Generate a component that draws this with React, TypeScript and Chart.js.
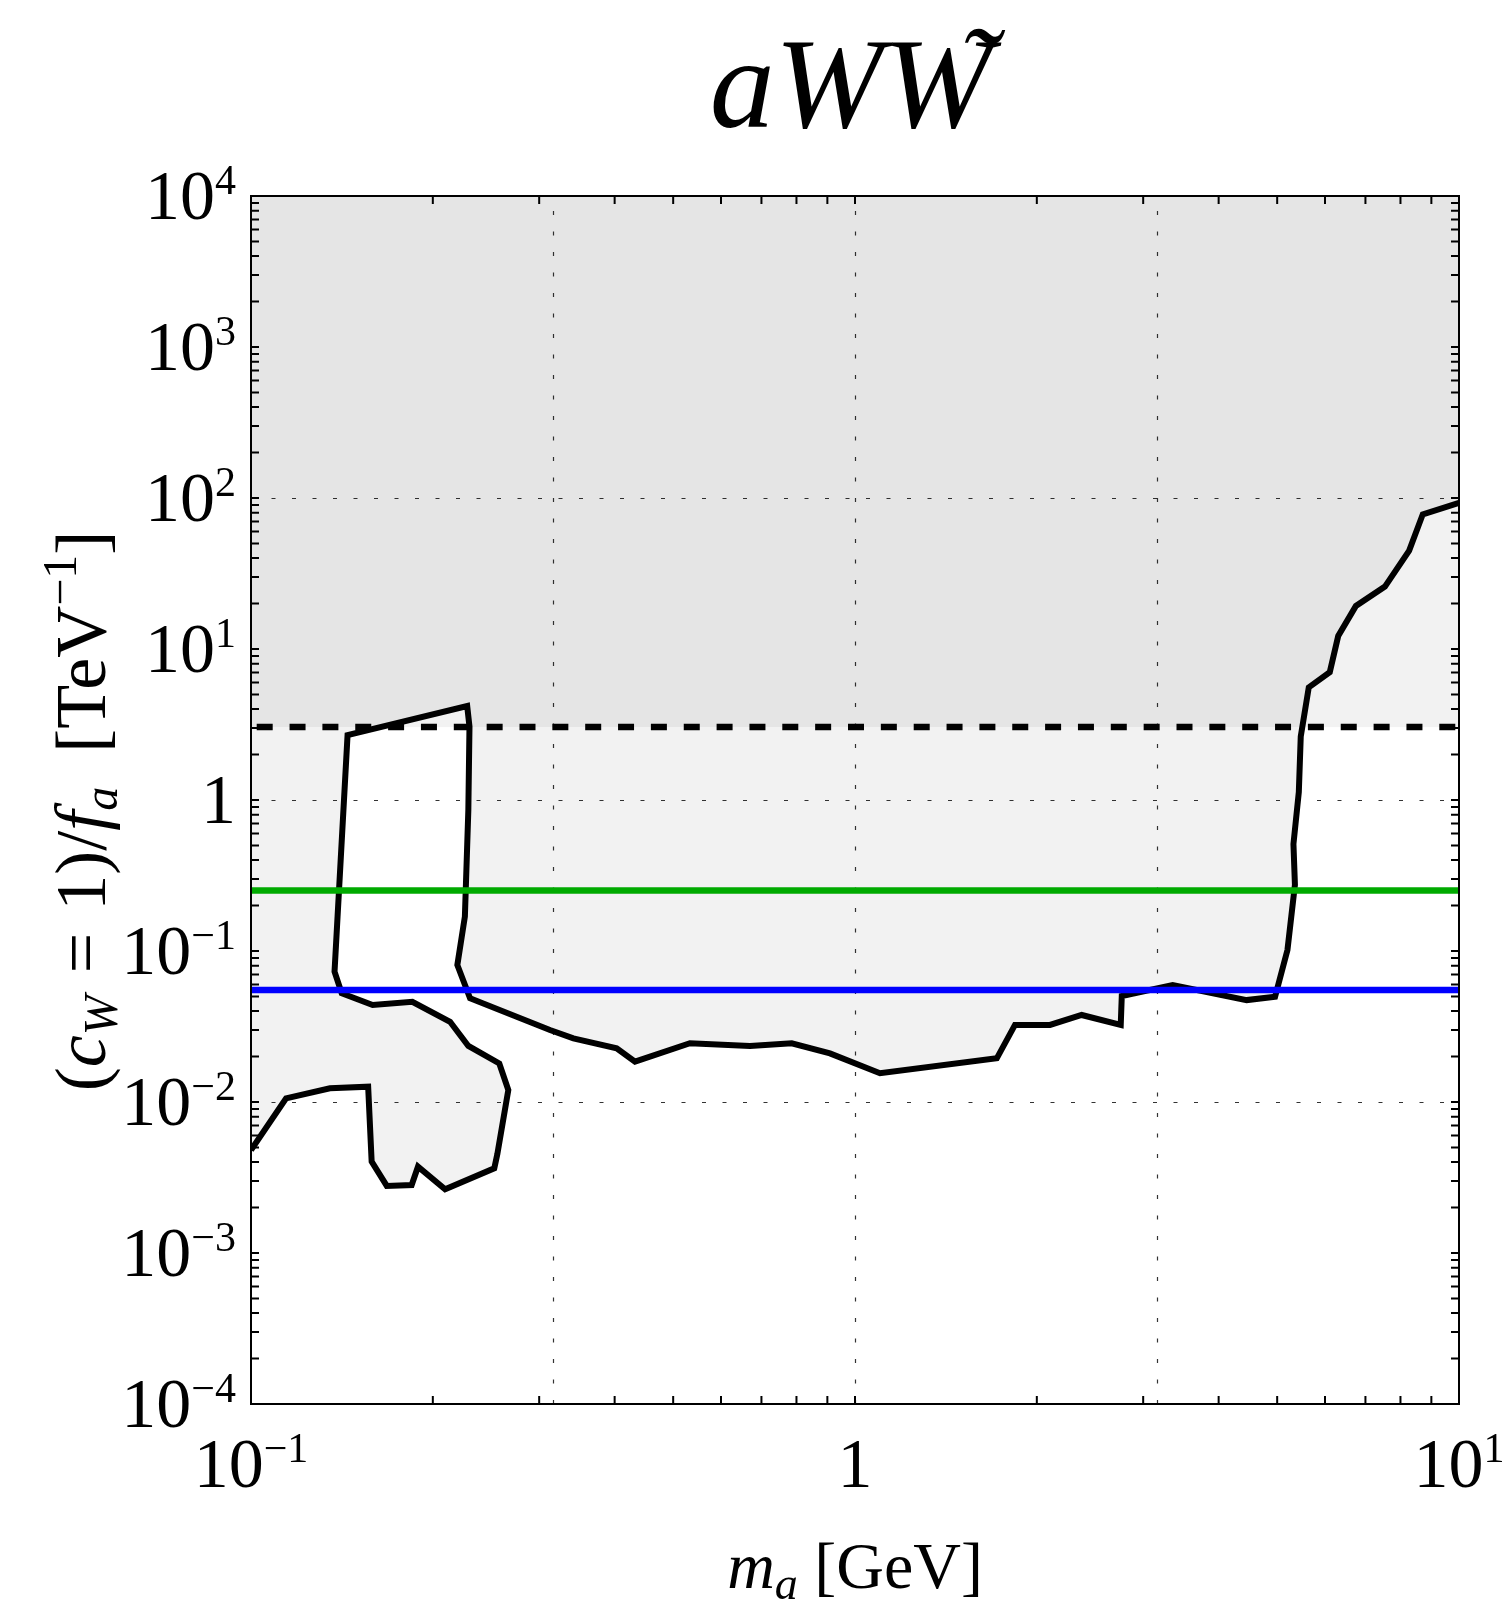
import React, { useEffect, useRef } from 'react';
import { Chart, registerables } from 'chart.js';

Chart.register(...registerables);

const CANVAS_W = 1503;
const CANVAS_H = 1599;

// Exclusion contour (m_a in GeV, coupling in TeV^-1), in drawing order
const contourMass = [
  0.1, 0.1143, 0.1351, 0.1563, 0.1584, 0.1678, 0.1845, 0.189, 0.2096, 0.2528,
  0.2558, 0.2667, 0.2577, 0.229, 0.2136, 0.185, 0.159, 0.1413, 0.1375, 0.1445,
  0.228, 0.23, 0.229, 0.226, 0.2196, 0.2305, 0.3126, 0.3418, 0.4031, 0.4323,
  0.533, 0.67, 0.7857, 0.909, 1.1, 1.717, 1.84, 2.103, 2.373, 2.754,
  2.765, 3.357, 4.451, 4.96, 5.2, 5.35, 5.32, 5.43, 5.47, 5.64,
  6.11, 6.31, 6.75, 7.54, 8.27, 8.71, 10,
];
const contourCoupling = [
  0.0048, 0.01057, 0.01233, 0.01264, 0.00403, 0.00278, 0.00282, 0.00373, 0.00264, 0.00364,
  0.00453, 0.012, 0.018, 0.0235, 0.034, 0.0461, 0.0439, 0.0525, 0.073, 2.69,
  4.19, 3.06, 0.859, 0.169, 0.0808, 0.0486, 0.03, 0.0264, 0.0227, 0.0185,
  0.0245, 0.0235, 0.0245, 0.021, 0.0155, 0.01946, 0.0324, 0.0324, 0.0377, 0.0324,
  0.0503, 0.0595, 0.0473, 0.0498, 0.1016, 0.274, 0.511, 1.13, 2.63, 5.57,
  7.01, 12.2, 19.3, 25.9, 44.8, 78, 93,
];

const dashedLimit = 3.04;
const greenLimit = 0.252;
const blueLimit = 0.0552;

const massRange = [0.1, 10];
const couplingRange = [1e-4, 1e4];

const xGridLines = [0.3162, 1, 3.162];
const yGridLines = [0.01, 1, 100];

const xTickValues = [0.1, 1, 10];
const xTickBases = ['10', '1', '10'];
const xTickExps = ['\u22121', '', '1'];

const yTickValues = [1e-4, 1e-3, 1e-2, 1e-1, 1, 10, 100, 1000, 10000];
const yTickBases = ['10', '10', '10', '10', '1', '10', '10', '10', '10'];
const yTickExps = ['\u22124', '\u22123', '\u22122', '\u22121', '', '1', '2', '3', '4'];

const LIGHT = '#f2f2f2';
const DARK = '#e5e5e5';
const SERIF = '"Liberation Serif", "DejaVu Serif", serif';

const BASE_FS = 70;
const EXP_FS = 42;
const EXP_RAISE = 25;

function minorTicks(lo: number, hi: number): number[] {
  const out: number[] = [];
  const e0 = Math.round(Math.log10(lo));
  const e1 = Math.round(Math.log10(hi));
  for (let e = e0; e < e1; e++) {
    for (let m = 1; m <= 9; m++) out.push(m * Math.pow(10, e));
  }
  out.push(hi);
  return out;
}

function drawPower(ctx: CanvasRenderingContext2D, base: string, exp: string, x: number, baseline: number, align: 'center' | 'right') {
  ctx.font = `${BASE_FS}px ${SERIF}`;
  const wb = ctx.measureText(base).width;
  ctx.font = `${EXP_FS}px ${SERIF}`;
  const we = exp ? ctx.measureText(exp).width : 0;
  const total = wb + we;
  const x0 = align === 'center' ? x - total / 2 : x - total;
  ctx.textAlign = 'left';
  ctx.textBaseline = 'alphabetic';
  ctx.font = `${BASE_FS}px ${SERIF}`;
  ctx.fillText(base, x0, baseline);
  if (exp) {
    ctx.font = `${EXP_FS}px ${SERIF}`;
    ctx.fillText(exp, x0 + wb, baseline - EXP_RAISE);
  }
}

type Piece = { t: string; size: number; italic?: boolean; shift?: number; gap?: number };

function drawPieces(ctx: CanvasRenderingContext2D, pieces: Piece[], center: number, baseline: number) {
  const widths = pieces.map((p) => {
    ctx.font = `${p.italic ? 'italic ' : ''}${p.size}px ${SERIF}`;
    return ctx.measureText(p.t).width + (p.gap || 0);
  });
  const total = widths.reduce((a, b) => a + b, 0);
  let x = center - total / 2;
  ctx.textAlign = 'left';
  ctx.textBaseline = 'alphabetic';
  pieces.forEach((p, i) => {
    ctx.font = `${p.italic ? 'italic ' : ''}${p.size}px ${SERIF}`;
    ctx.fillText(p.t, x + (p.gap || 0), baseline + (p.shift || 0));
    x += widths[i];
  });
}

const decorPlugin = {
  id: 'decor',
  beforeDraw(chart: any) {
    const { ctx, chartArea: a } = chart;
    const xs = chart.scales.x;
    const ys = chart.scales.y;
    const px = (v: number) => xs.getPixelForValue(v);
    const py = (v: number) => ys.getPixelForValue(v);
    ctx.save();
    ctx.fillStyle = '#ffffff';
    ctx.fillRect(0, 0, chart.width, chart.height);
    ctx.beginPath();
    ctx.rect(a.left, a.top, a.right - a.left, a.bottom - a.top);
    ctx.clip();

    const yd = py(dashedLimit);
    ctx.fillStyle = LIGHT;
    ctx.fillRect(a.left, a.top, a.right - a.left, yd - a.top);

    const polygon = () => {
      ctx.beginPath();
      contourMass.forEach((m, i) => {
        const X = px(m);
        const Y = py(contourCoupling[i]);
        if (i === 0) ctx.moveTo(X, Y);
        else ctx.lineTo(X, Y);
      });
      ctx.lineTo(px(massRange[1]), py(couplingRange[1]));
      ctx.lineTo(px(massRange[0]), py(couplingRange[1]));
      ctx.closePath();
    };
    ctx.fillStyle = LIGHT;
    polygon();
    ctx.fill();

    ctx.save();
    ctx.beginPath();
    ctx.rect(a.left, a.top, a.right - a.left, yd - a.top);
    ctx.clip();
    ctx.fillStyle = DARK;
    polygon();
    ctx.fill();
    ctx.restore();

    // dotted grid
    ctx.strokeStyle = 'rgba(0,0,0,0.8)';
    ctx.lineWidth = 1.2;
    ctx.setLineDash([4, 16.5]);
    xGridLines.forEach((v) => {
      const X = Math.round(px(v)) + 0.5;
      ctx.beginPath();
      ctx.moveTo(X, a.bottom);
      ctx.lineTo(X, a.top);
      ctx.stroke();
    });
    yGridLines.forEach((v) => {
      const Y = Math.round(py(v)) + 0.5;
      ctx.beginPath();
      ctx.moveTo(a.left, Y);
      ctx.lineTo(a.right, Y);
      ctx.stroke();
    });
    ctx.restore();
  },
  afterDraw(chart: any) {
    const { ctx, chartArea: a } = chart;
    const xs = chart.scales.x;
    const ys = chart.scales.y;
    const px = (v: number) => xs.getPixelForValue(v);
    const py = (v: number) => ys.getPixelForValue(v);
    ctx.save();
    ctx.fillStyle = '#000';
    ctx.strokeStyle = '#000';
    ctx.setLineDash([]);

    // tick marks (inward)
    const TL = 8;
    ctx.lineWidth = 2;
    minorTicks(massRange[0], massRange[1]).forEach((v) => {
      const X = px(v);
      ctx.beginPath();
      ctx.moveTo(X, a.bottom);
      ctx.lineTo(X, a.bottom - TL);
      ctx.moveTo(X, a.top);
      ctx.lineTo(X, a.top + TL);
      ctx.stroke();
    });
    minorTicks(couplingRange[0], couplingRange[1]).forEach((v) => {
      const Y = py(v);
      ctx.beginPath();
      ctx.moveTo(a.left, Y);
      ctx.lineTo(a.left + TL, Y);
      ctx.moveTo(a.right, Y);
      ctx.lineTo(a.right - TL, Y);
      ctx.stroke();
    });

    // frame
    ctx.lineWidth = 2;
    ctx.strokeRect(a.left, a.top, a.right - a.left, a.bottom - a.top);

    // tick labels
    xTickValues.forEach((v, i) => {
      drawPower(ctx, xTickBases[i], xTickExps[i], px(v), a.bottom + 83, 'center');
    });
    yTickValues.forEach((v, i) => {
      drawPower(ctx, yTickBases[i], yTickExps[i], a.left - 15, py(v) + 23, 'right');
    });

    // x axis title: m_a [GeV]
    drawPieces(
      ctx,
      [
        { t: 'm', size: 66, italic: true },
        { t: 'a', size: 46, italic: true, shift: 11 },
        { t: ' [GeV]', size: 66 },
      ],
      (a.left + a.right) / 2,
      1588
    );

    // y axis title: (c_W = 1)/f_a [TeV^-1]
    ctx.save();
    ctx.translate(105, 811);
    ctx.rotate(-Math.PI / 2);
    drawPieces(
      ctx,
      [
        { t: '(', size: 72 },
        { t: 'c', size: 72, italic: true },
        { t: 'W', size: 48, italic: true, shift: 12 },
        { t: '=', size: 72, gap: 22 },
        { t: '1)/', size: 72, gap: 22 },
        { t: 'f', size: 72, italic: true },
        { t: 'a', size: 48, italic: true, shift: 12 },
        { t: '[TeV', size: 72, gap: 34 },
        { t: '\u22121', size: 48, shift: -29 },
        { t: ']', size: 72 },
      ],
      0,
      0
    );
    ctx.restore();

    // title aWW~
    ctx.font = `italic 130px ${SERIF}`;
    ctx.textAlign = 'left';
    ctx.textBaseline = 'alphabetic';
    const tm = ctx.measureText('aWW');
    const inkL = tm.actualBoundingBoxLeft;
    const inkR = tm.actualBoundingBoxRight;
    const x0 = 857.5 - (inkR - inkL) / 2;
    ctx.fillText('aWW', x0, 127);
    const tildeCenter = x0 + inkR - 17;
    ctx.font = `italic 120px ${SERIF}`;
    const tt = ctx.measureText('\u02dc');
    const tx = tildeCenter - (tt.actualBoundingBoxRight - tt.actualBoundingBoxLeft) / 2;
    const tBase = 28 + tt.actualBoundingBoxAscent;
    ctx.fillText('\u02dc', tx, tBase);

    ctx.restore();
  },
};

export default function App() {
  const ref = useRef<HTMLCanvasElement | null>(null);

  useEffect(() => {
    const canvas = ref.current;
    if (!canvas) return;
    const line = (y: number) => [
      { x: massRange[0], y },
      { x: massRange[1], y },
    ];
    const chart = new Chart(canvas, {
      type: 'scatter',
      data: {
        datasets: [
          {
            label: 'contour',
            data: contourMass.map((m, i) => ({ x: m, y: contourCoupling[i] })),
            showLine: true,
            borderColor: '#000000',
            borderWidth: 6,
            borderJoinStyle: 'miter',
            pointRadius: 0,
            fill: false,
            order: 4,
          },
          {
            label: 'dashed',
            data: line(dashedLimit),
            showLine: true,
            borderColor: '#000000',
            borderWidth: 6.5,
            borderDash: [16, 16.85],
            borderDashOffset: 27.15,
            pointRadius: 0,
            fill: false,
            order: 3,
          },
          {
            label: 'green',
            data: line(greenLimit),
            showLine: true,
            borderColor: 'rgb(0,170,0)',
            borderWidth: 6.5,
            pointRadius: 0,
            fill: false,
            order: 2,
          },
          {
            label: 'blue',
            data: line(blueLimit),
            showLine: true,
            borderColor: 'rgb(0,0,255)',
            borderWidth: 6.5,
            pointRadius: 0,
            fill: false,
            order: 1,
          },
        ] as any,
      },
      options: {
        animation: false,
        responsive: false,
        maintainAspectRatio: false,
        devicePixelRatio: 1,
        events: [],
        layout: { padding: { top: 196, right: 44, bottom: 0, left: 0 } },
        plugins: {
          legend: { display: false },
          tooltip: { enabled: false },
          title: { display: false },
        },
        scales: {
          x: {
            type: 'logarithmic',
            min: massRange[0],
            max: massRange[1],
            grid: { display: false },
            border: { display: false },
            ticks: { display: false },
            afterFit: (s: any) => {
              s.height = 195;
              s.paddingLeft = 0;
              s.paddingRight = 0;
            },
          },
          y: {
            type: 'logarithmic',
            min: couplingRange[0],
            max: couplingRange[1],
            grid: { display: false },
            border: { display: false },
            ticks: { display: false },
            afterFit: (s: any) => {
              s.width = 251;
              s.paddingTop = 0;
              s.paddingBottom = 0;
            },
          },
        },
      } as any,
      plugins: [decorPlugin],
    });
    return () => chart.destroy();
  }, []);

  return (
    <canvas
      ref={ref}
      width={CANVAS_W}
      height={CANVAS_H}
      style={{ position: 'absolute', left: 0, top: 0, display: 'block' }}
    />
  );
}
